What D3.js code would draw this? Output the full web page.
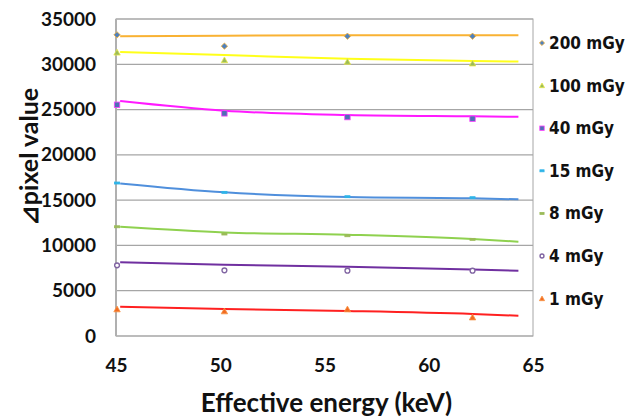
<!DOCTYPE html>
<html>
<head>
<meta charset="utf-8">
<script src="https://cdn.jsdelivr.net/npm/d3@7"></script>
<style>
  body { margin: 0; background: #fff; }
  svg { display: block; }
</style>
</head>
<body>
<div id="chart"></div>
<script>
// width and height
var w = 631;
var h = 419;
var margin = { top: 19, right: 98, bottom: 83, left: 116 };

// measured energies (keV)
var energies = [45.05, 50.2, 56.1, 62.1];
// trend line read positions
var trendX = [45.2, 50.2, 56.1, 62.1, 64.3];

var series = ["200 mGy", "100 mGy", "40 mGy", "15 mGy", "8 mGy", "4 mGy", "1 mGy"];

// measured values
var v200 = [33250, 32000, 33100, 33100];
var v100 = [31300, 30460, 30280, 30100];
var v40 = [25530, 24580, 24170, 23990];
var v15 = [16890, 15860, 15380, 15270];
var v8 = [12060, 11260, 11070, 10670];
var v4 = [7800, 7250, 7210, 7210];
var v1 = [2950, 2730, 2950, 2060];

// trend line values
var t200 = [33100, 33150, 33200, 33200, 33200];
var t100 = [31350, 31020, 30620, 30370, 30300];
var t40 = [25940, 24870, 24400, 24250, 24200];
var t15 = [16850, 15860, 15340, 15200, 15090];
var t8 = [12060, 11440, 11180, 10710, 10410];
var t4 = [8130, 7870, 7640, 7330, 7200];
var t1 = [3240, 2980, 2760, 2430, 2240];

var yTicks = [0, 5000, 10000, 15000, 20000, 25000, 30000, 35000];
var xTicks = [45, 50, 55, 60, 65];

var values = [v200, v100, v40, v15, v8, v4, v1];
var trends = [t200, t100, t40, t15, t8, t4, t1];
var lineColors = ["#f9b233", "#ffff1a", "#ff1aff", "#4f8fdc", "#8fd14f", "#7030a0", "#ff2020"];
var markerShapes = ["diamond", "triangle", "square", "dash", "dash", "ring", "triangle"];
var markerFill = ["#4f81bd", "#9bbb59", "#4f6fb5", "#2fb4e8", "#9bbb59", "#ffffff", "#f26b21"];
var markerStroke = ["#f9b233", "#e8e84a", "#ff40ff", "#2fb4e8", "#9bbb59", "#8064a2", "#f79646"];

var iw = w - margin.left - margin.right;
var ih = h - margin.top - margin.bottom;

var x = d3.scaleLinear().domain([45, 65]).range([0, iw]);
var y = d3.scaleLinear().domain([0, 35000]).range([ih, 0]);

var svg = d3.select("#chart").append("svg")
  .attr("width", w)
  .attr("height", h);

var g = svg.append("g")
  .attr("transform", "translate(" + margin.left + "," + margin.top + ")");

// gridlines
g.selectAll(".grid")
  .data(yTicks)
  .enter()
  .append("line")
  .attr("x1", 0)
  .attr("x2", iw)
  .attr("y1", function(d) { return y(d); })
  .attr("y2", function(d) { return y(d); })
  .style("stroke", "#a6a6a6")
  .style("stroke-width", 1.2);

// plot border
g.append("rect")
  .attr("width", iw)
  .attr("height", ih)
  .style("fill", "none")
  .style("stroke", "#a6a6a6")
  .style("stroke-width", 1);
g.append("line")
  .attr("x1", 0).attr("x2", 0)
  .attr("y1", 0).attr("y2", ih)
  .style("stroke", "#b0b0b0")
  .style("stroke-width", 2);

// axes
var yAxis = d3.axisLeft(y).tickValues(yTicks).tickFormat(d3.format("d")).tickSize(0).tickPadding(20);
var xAxis = d3.axisBottom(x).tickValues(xTicks).tickFormat(d3.format("d")).tickSize(0).tickPadding(23);

var ya = g.append("g").call(yAxis);
var xa = g.append("g").attr("transform", "translate(0," + ih + ")").call(xAxis);
[ya, xa].forEach(function(a) {
  a.select(".domain").remove();
  a.selectAll("text")
    .style("font-family", "Lato, 'Open Sans', sans-serif")
    .style("font-weight", "bold")
    .style("font-size", "19px")
    .style("fill", "#111");
});

// trend lines
var line = d3.line()
  .x(function(d, i) { return x(trendX[i]); })
  .y(function(d) { return y(d); })
  .curve(d3.curveMonotoneX);

g.selectAll(".trend")
  .data(trends)
  .enter()
  .append("path")
  .attr("d", line)
  .style("fill", "none")
  .style("stroke", function(d, i) { return lineColors[i]; })
  .style("stroke-width", 2);

// marker drawing
function drawMarker(sel, k, size) {
  var shape = markerShapes[k];
  var s = size;
  if (shape === "diamond") {
    sel.append("path").attr("d", "M0," + (-s) + "L" + s + ",0L0," + s + "L" + (-s) + ",0Z");
  } else if (shape === "triangle") {
    sel.append("path").attr("d", "M0," + (-s) + "L" + s + "," + (s * 0.8) + "L" + (-s) + "," + (s * 0.8) + "Z");
  } else if (shape === "square") {
    sel.append("rect").attr("x", -s * 0.85).attr("y", -s * 0.85).attr("width", s * 1.7).attr("height", s * 1.7);
  } else if (shape === "dash") {
    sel.append("rect").attr("x", -s * 0.8).attr("y", -1).attr("width", s * 1.6).attr("height", 2);
  } else if (shape === "ring") {
    sel.append("circle").attr("r", s * 0.75);
  }
  sel.selectAll("*")
    .style("fill", markerFill[k])
    .style("stroke", markerStroke[k])
    .style("stroke-width", shape === "ring" ? 1.4 : 0.8);
}

values.forEach(function(vals, k) {
  g.selectAll(".pt" + k)
    .data(vals)
    .enter()
    .append("g")
    .attr("transform", function(d, i) { return "translate(" + x(energies[i]) + "," + y(d) + ")"; })
    .each(function() { drawMarker(d3.select(this), k, 3.2); });
});

// legend
var legend = svg.append("g").attr("transform", "translate(542,43)");
series.forEach(function(name, k) {
  var item = legend.append("g").attr("transform", "translate(0," + (k * 42.6) + ")");
  item.append("g").each(function() { drawMarker(d3.select(this), k, 2.6); });
  item.append("text")
    .attr("x", 7)
    .attr("y", 6)
    .text(name)
    .style("font-family", "'DejaVu Sans Condensed', 'DejaVu Sans', sans-serif")
    .style("font-stretch", "condensed")
    .style("font-weight", "bold")
    .style("font-size", "17px")
    .style("fill", "#111");
});

// axis titles
svg.append("text")
  .attr("x", margin.left + iw / 2 + 2)
  .attr("y", 412)
  .attr("text-anchor", "middle")
  .text("Effective energy (keV)")
  .style("font-family", "Lato, 'Open Sans', sans-serif")
  .style("font-weight", "bold")
  .style("font-size", "26px")
  .style("fill", "#111");

svg.append("text")
  .attr("transform", "translate(38,157) rotate(-90)")
  .attr("text-anchor", "middle")
  .text("⊿pixel value")
  .style("font-family", "Lato, 'Open Sans', sans-serif")
  .style("font-weight", "bold")
  .style("font-size", "25px")
  .style("fill", "#111");
</script>
</body>
</html>
